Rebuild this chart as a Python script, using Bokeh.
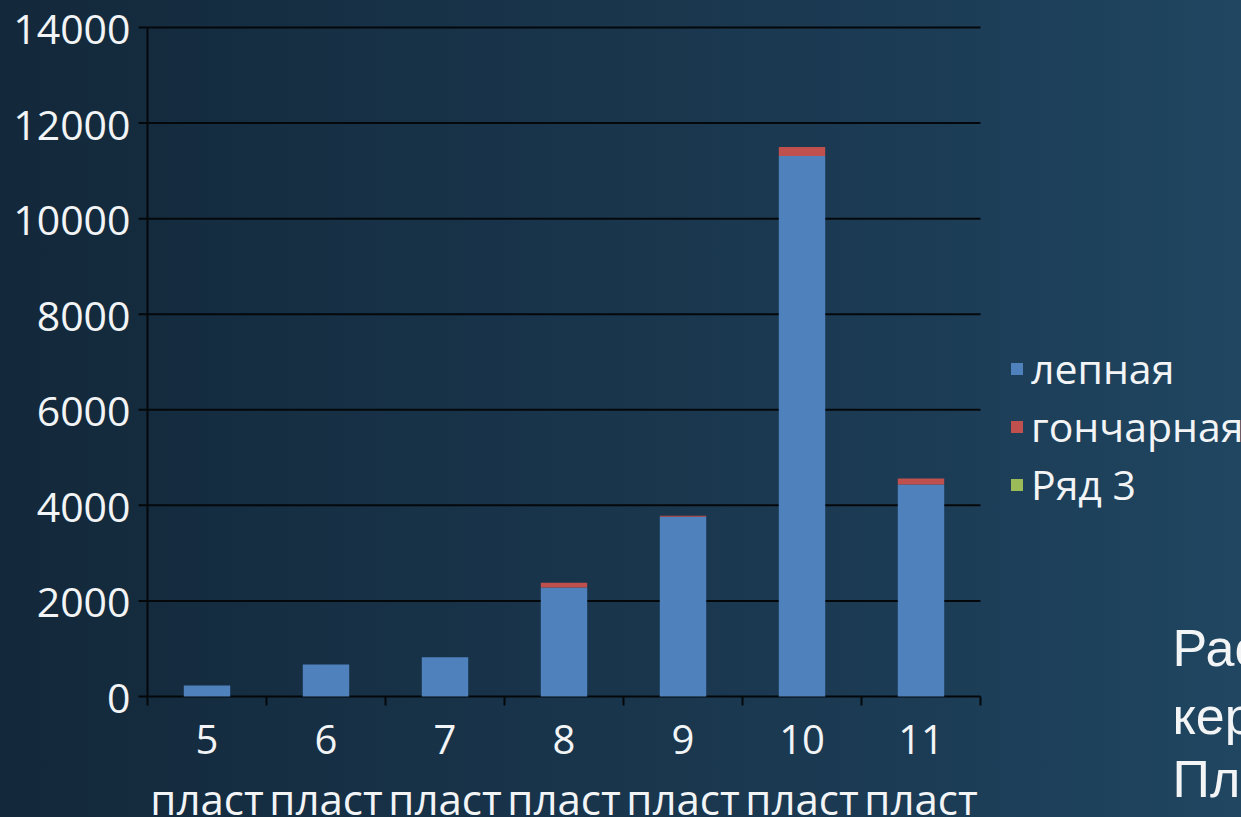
import math
from bokeh.plotting import figure
from bokeh.models import Range1d, Legend, LegendItem, Label
from bokeh.core.properties import value
from bokeh.embed import file_html
from bokeh.resources import INLINE

# ---- data ----
layers = ["5", "6", "7", "8", "9", "10", "11"]
unit_word = "пласт"
series_names = ["лепная", "гончарная", "Ряд 3"]
lepnaya = [230, 670, 820, 2280, 3760, 11310, 4435]
goncharnaya = [0, 0, 0, 100, 20, 190, 125]
ryad3 = [0, 0, 0, 0, 0, 0, 0]
y_ticks = [0, 2000, 4000, 6000, 8000, 10000, 12000, 14000]
y_tick_labels = [str(v) for v in y_ticks]
side_text = ["Рас", "кер", "Пл"]

# ---- style / layout ----
colors = ["#4F81BD", "#C0504D", "#9BBB59"]
FONT = "Open Sans"
WHITE = "#f2f4f6"
DARK = "#05080b"
W, H = 1241, 817
FRAME_L, FRAME_R, FRAME_T, FRAME_B = 147, 980, 27, 696

n = len(layers)
y_max = y_ticks[-1]
xpp = (FRAME_R - FRAME_L) / n
ypp = (FRAME_B - FRAME_T) / y_max
x_range = Range1d(-FRAME_L / xpp, (W - FRAME_L) / xpp)
y_range = Range1d(-(H - FRAME_B) / ypp, y_max + FRAME_T / ypp)

centers = [i + 0.5 for i in range(n)]
boundaries = list(range(n + 1))
data = {"x": centers, series_names[0]: lepnaya, series_names[1]: goncharnaya,
        series_names[2]: ryad3}

p = figure(width=W, height=H, x_range=x_range, y_range=y_range,
           output_backend="svg", toolbar_location=None,
           x_axis_location=None, y_axis_location=None,
           min_border_left=0, min_border_right=0, min_border_top=0, min_border_bottom=0)
p.background_fill_color = None
p.border_fill_color = None
p.outline_line_color = None
p.grid.visible = False
p.styles = {"background": "linear-gradient(90deg, #13283a 0%, #183349 40%, #1c3c55 75%, #204661 100%)"}

# gridlines + axis lines
p.segment(x0=[0] * len(y_ticks), x1=[n] * len(y_ticks), y0=y_ticks, y1=y_ticks,
          line_color=DARK, line_width=2)
p.segment(x0=[0], x1=[0], y0=[0], y1=[y_max], line_color=DARK, line_width=2)
# y tick marks (outward, left)
p.ray(x=[0] * len(y_ticks), y=y_ticks, length=9, length_units="screen", angle=math.pi,
      line_color=DARK, line_width=2)
# x tick marks at category boundaries (outward, down)
p.ray(x=boundaries, y=[0] * len(boundaries), length=9, length_units="screen",
      angle=-math.pi / 2, line_color=DARK, line_width=2)

# bars
renderers = p.vbar_stack(series_names, x="x", width=0.39, source=data,
                         color=colors, line_color=None)

# y tick labels
p.text(x=[0] * len(y_ticks), y=y_ticks, text=y_tick_labels, x_offset=-17, y_offset=2,
       text_align="right", text_baseline="middle", text_font=value(FONT),
       text_font_size="41px", text_color=WHITE)
# category labels (two lines)
p.text(x=centers, y=[0] * n, text=layers, y_offset=43, text_align="center",
       text_baseline="middle", text_font=value(FONT), text_font_size="40px",
       text_color=WHITE)
p.text(x=centers, y=[0] * n, text=[unit_word] * n, y_offset=102, text_align="center",
       text_baseline="middle", text_font=value(FONT), text_font_size="42px",
       text_color=WHITE)

legend = Legend(items=[LegendItem(label=s, renderers=[r]) for s, r in zip(series_names, renderers)],
                location=(1009, 305))
legend.background_fill_color = None
legend.border_line_color = None
legend.label_text_font = FONT
legend.label_text_font_size = "41px"
legend.label_text_color = WHITE
legend.glyph_width = 15
legend.glyph_height = 15
legend.label_standoff = 7
legend.spacing = 2
legend.padding = 0
legend.margin = 0
p.add_layout(legend, "center")

for t, yy in zip(side_text, [170, 102, 39]):
    p.add_layout(Label(x=1172, y=yy, x_units="screen", y_units="screen", text=t,
                       text_font="Liberation Sans", text_font_size="52px",
                       text_color=WHITE, text_baseline="middle"))

open("out.html", "w").write(file_html(p, INLINE))
